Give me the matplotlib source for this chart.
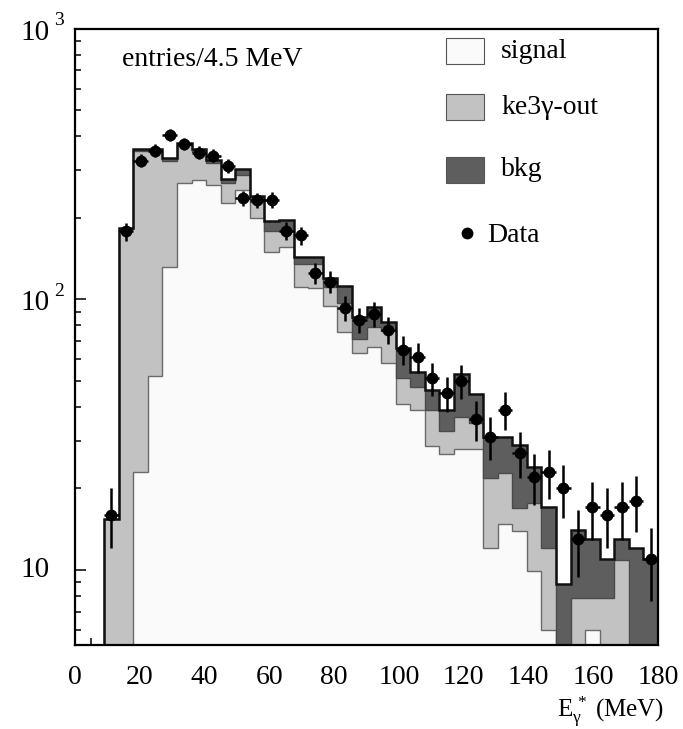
import numpy as np
import matplotlib
matplotlib.use("Agg")
import matplotlib.pyplot as plt
from matplotlib.patches import Rectangle
from matplotlib.lines import Line2D
from matplotlib.ticker import FixedLocator, NullFormatter, LogLocator
from matplotlib.transforms import blended_transform_factory, offset_copy

plt.rcParams["font.family"] = ["Liberation Serif", "DejaVu Serif"]
plt.rcParams["mathtext.fontset"] = "custom"
plt.rcParams["mathtext.rm"] = "Liberation Serif"
plt.rcParams["mathtext.it"] = "Liberation Serif:italic"

# 4.5 MeV bins from 0 to 180 MeV
bin_width = 4.5
n_bins = 40

# expected entries per bin, one array per component
signal = [0, 0, 0, 0, 23, 52, 132, 268, 276, 264,
          226, 253, 199, 150, 156, 111, 110, 94.5, 75.5, 63.5,
          66.8, 58, 41, 38.8, 28.8, 26.8, 27.9, 27.9, 12, 14.8,
          13.9, 9.9, 6, 0, 0, 6, 0, 0, 0, 0]
ke3g_out = [0, 0, 15.4, 182, 331, 302, 193, 102, 74, 54,
            42, 35, 29, 28, 22, 24, 25, 16.5, 21.5, 7.5,
            12, 18, 10.3, 8.7, 10, 5.9, 8.9, 6.9, 9.8, 8,
            3, 7.8, 6, 0, 7.9, 1.9, 7.9, 10.9, 0, 0]
bkg = [0, 0, 0, 2, 5, 4, 7, 7, 8, 9,
       9, 14, 12, 17, 18, 8, 8, 9, 15, 15.3,
       15.1, 6.6, 14.7, 6.5, 7.2, 6.3, 16.2, 9.9, 9.1, 8.1,
       12, 6.3, 5, 8.9, 6.1, 5.1, 3.1, 2.1, 12, 11]

# observed entries per bin (0 = no entry)
data = [0, 0, 16, 178, 325, 354, 405, 375, 348, 339,
        311, 236, 232, 233, 179, 172, 125, 116, 93, 84,
        88, 77, 65, 61, 51, 45, 50, 36, 31, 39,
        27, 22, 23, 20, 13, 17, 16, 17, 18, 11]

x_ticks = [0, 20, 40, 60, 80, 100, 120, 140, 160, 180]
y_ticks = [10, 100, 1000]
y_tick_exponents = ["", "2", "3"]

edges = np.arange(n_bins + 1) * bin_width
centers = 0.5 * (edges[:-1] + edges[1:])
sig = np.array(signal, float)
sk = sig + np.array(ke3g_out, float)
tot = sk + np.array(bkg, float)
obs = np.array(data, float)

W, H = 683, 729
fig = plt.figure(figsize=(W / 100, H / 100), dpi=100)
ax = fig.add_axes([75 / W, 1 - 644.5 / H, (658 - 75) / W, (644.5 - 28.5) / H])
ax.set_yscale("log")
ax.set_xlim(0, 180)
ax.set_ylim(5.3, 1000)
ax.set_axisbelow(True)

base = 1.0
c_bkg, c_ke3, c_sig = "#5e5e5e", "#c2c2c2", "#fafafa"
ax.stairs(np.clip(tot, base, None), edges, baseline=base, fill=True,
          facecolor=c_bkg, edgecolor="none", zorder=2)
ax.stairs(np.clip(sk, base, None), edges, baseline=base, fill=True,
          facecolor=c_ke3, edgecolor="none", zorder=3)
ax.stairs(np.clip(sig, base, None), edges, baseline=base, fill=True,
          facecolor=c_sig, edgecolor="none", zorder=4)
ax.stairs(np.clip(sig, base, None), edges, baseline=base, color="#6a6a6a",
          lw=1.0, zorder=4.5)
ax.stairs(np.clip(sk, base, None), edges, baseline=base, color="#4a4a4a",
          lw=1.0, zorder=4.6)
ax.stairs(np.clip(tot, base, None), edges, baseline=base, color="#111111",
          lw=1.8, zorder=4.7)

m = obs > 0
ax.errorbar(centers[m], obs[m], yerr=np.sqrt(obs[m]), xerr=bin_width / 2,
            fmt="o", color="black", ms=7.5, elinewidth=1.8, capsize=0, zorder=6)

ax.xaxis.set_major_locator(FixedLocator(x_ticks))
ax.xaxis.set_minor_locator(FixedLocator(np.arange(0, 181, 5)))
ax.set_xticklabels([str(v) for v in x_ticks])
ax.yaxis.set_major_locator(FixedLocator(y_ticks))
ax.yaxis.set_minor_locator(LogLocator(base=10, subs=np.arange(2, 10)))
ax.yaxis.set_minor_formatter(NullFormatter())
ax.yaxis.set_major_formatter(NullFormatter())

ax.tick_params(axis="both", which="both", direction="in", top=False, right=False,
               width=1.1, colors="black")
ax.tick_params(axis="x", which="major", length=10, labelsize=20, pad=15)
ax.tick_params(axis="x", which="minor", length=5)
ax.tick_params(axis="y", which="major", length=8)
ax.tick_params(axis="y", which="minor", length=4.5)
for s in ax.spines.values():
    s.set_linewidth(1.6)
    s.set_zorder(7)

# y tick labels: "10" followed by a raised exponent
ylab_tr = blended_transform_factory(fig.transFigure, ax.transData)
for v, e in zip(y_ticks, y_tick_exponents):
    if e:
        fig.text(50 / W, v, "10", transform=offset_copy(ylab_tr, fig=fig, y=-4, units="dots"),
                 ha="right", va="center", fontsize=21)
        fig.text(54 / W, v, e, transform=offset_copy(ylab_tr, fig=fig, y=8, units="dots"),
                 ha="left", va="center", fontsize=14)
    else:
        fig.text(50 / W, v, "10", transform=ylab_tr, ha="right", va="center",
                 fontsize=21)

fig.text(664 / W, 1 - 717 / H, r"$\mathregular{E_{\gamma}^{\,*}\ (MeV)}$",
         ha="right", va="baseline", fontsize=18)
fig.text(122 / W, 1 - 60 / H, "entries/4.5 MeV", ha="left", va="center",
         fontsize=20)

# legend
items = [("signal", c_sig, 51), ("ke3\u03b3-out", c_ke3, 107), ("bkg", c_bkg, 170)]
for label, col, yc in items:
    fig.patches.append(Rectangle((446 / W, 1 - (yc + 13) / H), 38 / W, 26 / H,
                                 transform=fig.transFigure, facecolor=col,
                                 edgecolor="#555555", lw=0.8))
    fig.text(501 / W, 1 - yc / H, label, ha="left", va="center", fontsize=20)
fig.lines.append(Line2D([467 / W], [1 - 233 / H], transform=fig.transFigure,
                        marker="o", color="black", ms=7.5))
fig.text(487 / W, 1 - 236 / H, "Data", ha="left", va="center", fontsize=20)

fig.savefig("out.png", dpi=100)
